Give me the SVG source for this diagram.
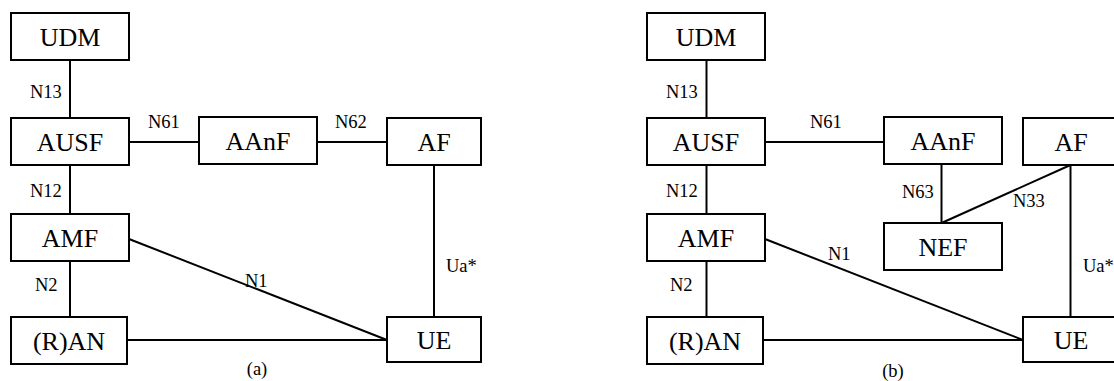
<svg xmlns="http://www.w3.org/2000/svg" width="1114" height="381" viewBox="0 0 1114 381">
<defs>
<style>
.box{fill:#fff;stroke:#000;stroke-width:2}
.ln{stroke:#000;stroke-width:2;fill:none}
</style>
</defs>
<rect width="1114" height="381" fill="#fff"/>
<g id="connectors">
<line class="ln" x1="70" y1="60" x2="70" y2="118"/>
<line class="ln" x1="70" y1="165" x2="70" y2="214"/>
<line class="ln" x1="70" y1="261" x2="70" y2="317"/>
<line class="ln" x1="129" y1="142" x2="199" y2="142"/>
<line class="ln" x1="317" y1="142" x2="387" y2="142"/>
<line class="ln" x1="434" y1="165" x2="434" y2="317"/>
<line class="ln" x1="129" y1="239" x2="387" y2="340"/>
<line class="ln" x1="127" y1="340" x2="387" y2="340"/>
<line class="ln" x1="706.5" y1="60" x2="706.5" y2="118"/>
<line class="ln" x1="706.5" y1="165" x2="706.5" y2="214"/>
<line class="ln" x1="706.5" y1="261" x2="706.5" y2="317"/>
<line class="ln" x1="765" y1="142" x2="884" y2="142"/>
<line class="ln" x1="941.5" y1="164" x2="941.5" y2="223"/>
<line class="ln" x1="941.5" y1="223" x2="1070.5" y2="165"/>
<line class="ln" x1="1070.5" y1="165" x2="1070.5" y2="317"/>
<line class="ln" x1="765" y1="239" x2="1023" y2="340"/>
<line class="ln" x1="763" y1="340" x2="1023" y2="340"/>
<g font-family="Liberation Serif" font-size="18.5" fill="#000">
<text font-family="Liberation Serif" x="30" y="98">N13</text>
<text font-family="Liberation Serif" x="30" y="197">N12</text>
<text font-family="Liberation Serif" x="35" y="291">N2</text>
<text font-family="Liberation Serif" x="148" y="128">N61</text>
<text font-family="Liberation Serif" x="335" y="128">N62</text>
<text font-family="Liberation Serif" x="446" y="272">Ua*</text>
<text font-family="Liberation Serif" x="245" y="287">N1</text>
<text font-family="Liberation Serif" x="666" y="98">N13</text>
<text font-family="Liberation Serif" x="666" y="197">N12</text>
<text font-family="Liberation Serif" x="670" y="291">N2</text>
<text font-family="Liberation Serif" x="810" y="128">N61</text>
<text font-family="Liberation Serif" x="902" y="198">N63</text>
<text font-family="Liberation Serif" x="1013" y="207">N33</text>
<text font-family="Liberation Serif" x="1083" y="272">Ua*</text>
<text font-family="Liberation Serif" x="828" y="260">N1</text>
</g>
</g>
<g font-family="Liberation Serif" font-size="26" text-anchor="middle" fill="#000">
<g id="udm-a"><rect class="box" x="11" y="13" width="118" height="47"/><text font-family="Liberation Serif" x="70" y="46">UDM</text></g>
<g id="ausf-a"><rect class="box" x="11" y="118" width="118" height="47"/><text font-family="Liberation Serif" x="70" y="151">AUSF</text></g>
<g id="amf-a"><rect class="box" x="11" y="214" width="118" height="47"/><text font-family="Liberation Serif" x="70" y="247">AMF</text></g>
<g id="ran-a"><rect class="box" x="11" y="317" width="116" height="47"/><text font-family="Liberation Serif" x="69" y="350">(R)AN</text></g>
<g id="aanf-a"><rect class="box" x="199" y="117" width="118" height="47"/><text font-family="Liberation Serif" x="258" y="150">AAnF</text></g>
<g id="af-a"><rect class="box" x="387" y="118" width="94" height="47"/><text font-family="Liberation Serif" x="434" y="151">AF</text></g>
<g id="ue-a"><rect class="box" x="387" y="317" width="94" height="45"/><text font-family="Liberation Serif" x="434" y="349">UE</text></g>
<g id="udm-b"><rect class="box" x="647" y="13" width="118" height="47"/><text font-family="Liberation Serif" x="706" y="46">UDM</text></g>
<g id="ausf-b"><rect class="box" x="647" y="118" width="118" height="47"/><text font-family="Liberation Serif" x="706" y="151">AUSF</text></g>
<g id="amf-b"><rect class="box" x="647" y="214" width="118" height="47"/><text font-family="Liberation Serif" x="706" y="247">AMF</text></g>
<g id="ran-b"><rect class="box" x="647" y="317" width="116" height="47"/><text font-family="Liberation Serif" x="705" y="350">(R)AN</text></g>
<g id="aanf-b"><rect class="box" x="884" y="117" width="118" height="47"/><text font-family="Liberation Serif" x="943" y="150">AAnF</text></g>
<g id="nef-b"><rect class="box" x="884" y="223" width="118" height="47"/><text font-family="Liberation Serif" x="943" y="256">NEF</text></g>
<g id="af-b"><rect class="box" x="1023" y="118" width="94" height="47"/><text font-family="Liberation Serif" x="1071" y="151">AF</text></g>
<g id="ue-b"><rect class="box" x="1023" y="317" width="94" height="45"/><text font-family="Liberation Serif" x="1071" y="349">UE</text></g>
</g>
<g font-family="Liberation Serif" font-size="18.5" text-anchor="middle" fill="#000">
<text font-family="Liberation Serif" x="257" y="375">(a)</text>
<text font-family="Liberation Serif" x="893" y="377">(b)</text>
</g>
</svg>
